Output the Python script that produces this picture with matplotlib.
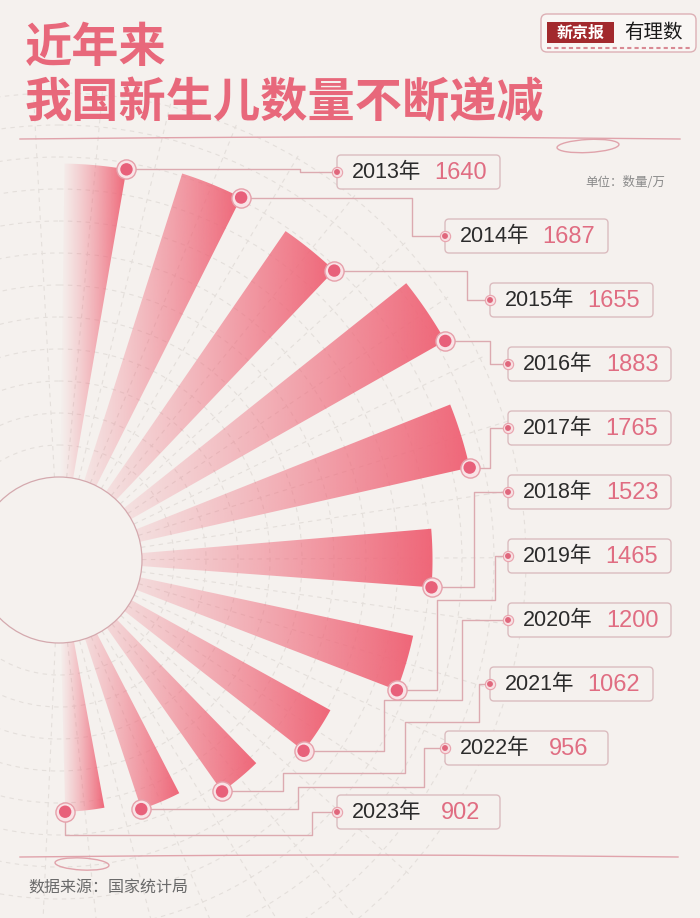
import numpy as np
import matplotlib.pyplot as plt
from matplotlib.patches import Polygon, Circle, FancyBboxPatch, Ellipse, Rectangle
from matplotlib.colors import to_rgb

plt.rcParams['font.family'] = ['Noto Sans CJK SC', 'DejaVu Sans']
num_font = ['Liberation Sans', 'Noto Sans CJK SC']

# data (万)
years = ['2013', '2014', '2015', '2016', '2017', '2018', '2019', '2020', '2021', '2022', '2023']
births = [1640, 1687, 1655, 1883, 1765, 1523, 1465, 1200, 1062, 956, 902]

bg = '#f5f1ee'
pink = '#ef6678'
line_c = '#dcaab0'

# layout (pixel space)
cx, cy = 59, 560
r0, k = 75, 0.196          # radius = r0 + k * value
start0, step, width = 0.8, 16.88, 9.0
box_x = [337, 445, 490, 508, 508, 508, 508, 508, 490, 445, 337]
box_w, box_h = 163, 34
routes = [[300], [412], [467], [490], [490], [474],
          [437, 600, 495], [384, 700, 462], [283, 773, 405, 722, 479],
          [298, 787, 424], [None, 835, 312]]

fig = plt.figure(figsize=(7, 9.18), dpi=100, facecolor=bg)
ax = fig.add_axes([0, 0, 1, 1])
ax.set_facecolor(bg)
ax.axis('off')


def pt(theta, r):
    t = np.radians(theta)
    return cx + r * np.sin(t), cy - r * np.cos(t)


# grid
for rr in np.arange(115, 480, 32):
    ax.add_patch(Circle((cx, cy), rr, fill=False, ec='#e4dfdb', lw=0.8, ls=(0, (4, 4)), zorder=1))
for a in np.arange(start0 + width + (step - width) / 2 - step, 190, step / 2):
    x1, y1 = pt(a, 83)
    x2, y2 = pt(a, 470)
    ax.plot([x1, x2], [y1, y2], color='#e4dfdb', lw=0.8, ls=(0, (4, 4)), zorder=1)

# bars with horizontal gradient
rgb = to_rgb(pink)
tips = []
for i, v in enumerate(births):
    a0 = start0 + step * i
    a1 = a0 + width
    r = r0 + k * v
    th = np.linspace(a0, a1, 40)
    xs, ys = pt(th, r)
    px = np.concatenate([[cx], xs])
    py = np.concatenate([[cy], ys])
    poly = Polygon(np.column_stack([px, py]), closed=True, fc='none', ec='none')
    ax.add_patch(poly)
    grad = np.zeros((1, 256, 4))
    grad[..., :3] = rgb
    grad[..., 3] = np.linspace(0, 1, 256) ** 1.2
    im = ax.imshow(grad, extent=(px.min(), px.max(), py.max(), py.min()),
                   aspect='auto', zorder=2, interpolation='bilinear')
    im.set_clip_path(poly)
    tips.append(pt(a1, r))

# center circle
ax.add_patch(Circle((cx, cy), 83, fc=bg, ec='#d4a9ae', lw=0.9, zorder=3))

# connectors, boxes, labels
for i, (yr, v) in enumerate(zip(years, births)):
    x0, y0 = tips[i]
    by = 172 + 64 * i
    bx = box_x[i]
    pts = [(x0, y0)]
    x, y = x0, y0
    for j, val in enumerate(routes[i]):
        if j % 2 == 0:
            x = x if val is None else val
        else:
            y = val
        pts.append((x, y))
    pts += [(x, by), (bx, by)]
    pts = np.array(pts)
    ax.plot(pts[:, 0], pts[:, 1], color=line_c, lw=1.0, zorder=4)

    ax.add_patch(FancyBboxPatch((bx, by - box_h / 2), box_w, box_h,
                                boxstyle='round,pad=0,rounding_size=4',
                                fc=bg, ec='#dbbcbf', lw=1.0, zorder=5))
    ax.text(bx + 15, by + 1, yr + '年', fontsize=15.5, color='#2b2b2b', family=num_font,
            ha='left', va='center', zorder=6)
    ax.text(bx + 124, by + 1, str(v), fontsize=17, color='#e06d82', family=num_font,
            ha='center', va='center', zorder=6)
    ax.scatter([bx], [by], s=55, fc='#f7dfe2', ec='#e9a3ad', lw=0.8, zorder=7)
    ax.scatter([bx], [by], s=18, fc='#e0677c', ec='none', zorder=8)

    ax.scatter([x0], [y0], s=190, fc='#f9e3e6', ec='#e6a0aa', lw=1.0, zorder=7)
    ax.scatter([x0], [y0], s=80, fc='#e8607a', ec='none', zorder=8)

ax.set_xlim(0, 700)
ax.set_ylim(918, 0)

# title
tc = '#e8687b'
ax.text(25, 48, '近年来', fontsize=34, fontweight='heavy', color=tc, ha='left', va='center')
ax.text(25, 104, '我国新生儿数量不断递减', fontsize=34, fontweight='heavy', color=tc,
        ha='left', va='center')

# hand-drawn rules
xx = np.linspace(20, 680, 200)
ax.plot(xx, 139 - 2 * np.sin(np.pi * (xx - 20) / 660), color='#e0a3ab', lw=1.0)
ax.add_patch(Ellipse((588, 146), 62, 13, angle=-3, fill=False, ec='#e0a3ab', lw=1.0))
xx = np.linspace(20, 678, 200)
ax.plot(xx, 857 - 2 * np.sin(np.pi * (xx - 20) / 658), color='#e0a3ab', lw=1.0)
ax.add_patch(Ellipse((82, 864), 54, 12, angle=3, fill=False, ec='#e0a3ab', lw=1.0))

# logo
ax.add_patch(FancyBboxPatch((541, 14), 155, 38, boxstyle='round,pad=0,rounding_size=6',
                            fc='#f9f6f4', ec='#ddb0b5', lw=1.0))
ax.plot([547, 690], [48, 48], color='#d98a94', lw=1.5, ls=(0, (2, 1.5)))
ax.add_patch(Rectangle((547, 22), 67, 21, fc='#a2292d', ec='none'))
ax.text(580.5, 32.5, '新京报', fontsize=11.5, fontweight='bold', color='white',
        ha='center', va='center')
ax.text(653, 32, '有理数', fontsize=14, color='#1a1a1a', ha='center', va='center',
        style='italic')

# notes
ax.text(665, 183, '单位：数量/万', fontsize=9, color='#8a8a8a', ha='right', va='center')
ax.text(28, 888, '数据来源：国家统计局', fontsize=11.5, color='#6a6a6a', ha='left', va='center')

fig.savefig('out.png', dpi=100, facecolor=bg)
